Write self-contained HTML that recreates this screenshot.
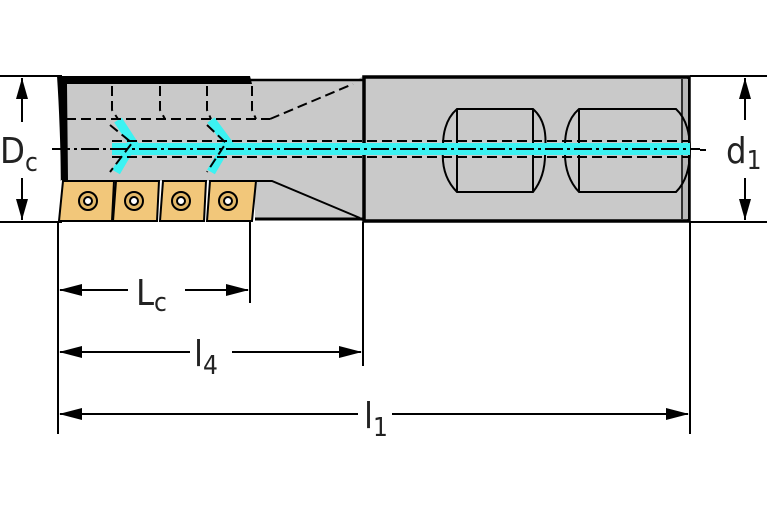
<!DOCTYPE html>
<html><head><style>html,body{margin:0;padding:0;background:#fff;width:767px;height:523px;overflow:hidden}</style></head>
<body>
<svg width="767" height="523" viewBox="0 0 767 523" xmlns="http://www.w3.org/2000/svg" font-family="'DejaVu Sans Condensed','Liberation Sans Narrow','Liberation Sans',sans-serif">
<g stroke="#000" stroke-width="2">
<line x1="0" y1="76" x2="62" y2="76"/>
<line x1="0" y1="222" x2="62" y2="222"/>
<line x1="690" y1="76" x2="767" y2="76"/>
<line x1="690" y1="222" x2="767" y2="222"/>
<line x1="58" y1="222" x2="58" y2="434"/>
<line x1="250" y1="222" x2="250" y2="303"/>
<line x1="363" y1="222" x2="363" y2="366"/>
<line x1="690" y1="222" x2="690" y2="434"/>
</g>
<path d="M62,82 L250,82 L250,80 L357,80 L363,76 L363,222 L357,218 L255,218 L255,181 L60,181 Z" fill="#c9c9c9"/>
<path d="M57,76 L250,76 L252,84 L67,84 L68,180 L61,180 Q60,120 57,76 Z" fill="#000"/>
<line x1="250" y1="80" x2="363" y2="80" stroke="#000" stroke-width="2.5"/>
<line x1="255" y1="219" x2="363" y2="219" stroke="#000" stroke-width="3"/>
<path d="M255,181 L272,181 L360,218" fill="none" stroke="#000" stroke-width="2"/>
<rect x="364" y="77" width="325" height="144" fill="#c9c9c9" stroke="#000" stroke-width="3.5"/>
<line x1="682" y1="79" x2="682" y2="219" stroke="#000" stroke-width="1.5"/>
<rect x="683" y="79" width="5" height="140" fill="#b8b8b8"/>
<g fill="none" stroke="#000" stroke-width="2">
<path d="M457,109 L533,109 Q548,122 545,150 Q546,176 533,192 L457,192 Q441,176 443,150 Q442,122 457,109 Z"/>
<line x1="457" y1="109" x2="457" y2="192"/>
<line x1="533" y1="109" x2="533" y2="192"/>
<path d="M579,109 L676,109 Q690,122 690,150 Q690,178 676,192 L579,192 Q564,176 565,150 Q564,122 579,109 Z"/>
<line x1="579" y1="109" x2="579" y2="192"/>
</g>
<rect x="112" y="143" width="578" height="12" fill="#3cf2f2"/>
<g stroke="#3cf2f2" stroke-width="9" fill="none">
<path d="M118,120 L133,143 L116,172"/>
<path d="M211,120 L228,143 L211,172"/>
</g>
<g stroke="#000" stroke-width="2" fill="none" stroke-dasharray="10,5">
<line x1="66" y1="119" x2="270" y2="119"/>
<path d="M270,119 L353,84"/>
<line x1="112" y1="141" x2="690" y2="141"/>
<line x1="112" y1="157" x2="690" y2="157"/>
<path d="M112,86 L112,110 L118,119"/>
<path d="M160,86 L160,110 L165,119"/>
<path d="M207,86 L207,110 L211,119"/>
<path d="M252,86 L252,110 L256,119"/>
<path d="M110,125 L132,143 L110,172"/>
<path d="M207,125 L226,143 L207,172"/>
</g>
<line x1="52" y1="149" x2="700" y2="149" stroke="#000" stroke-width="2" stroke-dasharray="18,4,3,4"/>
<g stroke="#000" stroke-width="2" fill="#f2c77a">
<path d="M63,181 L114,181 L112,221 L59,221 Z"/>
<path d="M116,181 L159,181 L157,221 L113,221 Z"/>
<path d="M163,181 L206,181 L204,221 L160,221 Z"/>
<path d="M210,181 L256,181 L252,221 L207,221 Z"/>
</g>
<g fill="none" stroke="#000">
<circle cx="88" cy="201" r="9" stroke-width="2" fill="#e3b868"/><circle cx="88" cy="201" r="4" fill="#fff" stroke-width="2"/>
<circle cx="134" cy="201" r="9" stroke-width="2" fill="#e3b868"/><circle cx="134" cy="201" r="4" fill="#fff" stroke-width="2"/>
<circle cx="181" cy="201" r="9" stroke-width="2" fill="#e3b868"/><circle cx="181" cy="201" r="4" fill="#fff" stroke-width="2"/>
<circle cx="228" cy="201" r="9" stroke-width="2" fill="#e3b868"/><circle cx="228" cy="201" r="4" fill="#fff" stroke-width="2"/>
</g>
<g stroke="#000" stroke-width="2">
<line x1="22" y1="78" x2="22" y2="122"/><line x1="22" y1="178" x2="22" y2="220"/>
<line x1="745" y1="78" x2="745" y2="120"/><line x1="745" y1="178" x2="745" y2="220"/>
<line x1="700" y1="150" x2="706" y2="150"/>
<line x1="60" y1="290" x2="128" y2="290"/><line x1="185" y1="290" x2="248" y2="290"/>
<line x1="60" y1="352" x2="190" y2="352"/><line x1="232" y1="352" x2="361" y2="352"/>
<line x1="60" y1="414" x2="358" y2="414"/><line x1="392" y1="414" x2="688" y2="414"/>
</g>
<g fill="#000">
<path d="M22,78 L16,99 L28,99 Z"/><path d="M22,220 L16,199 L28,199 Z"/>
<path d="M745,78 L739,99 L751,99 Z"/><path d="M745,220 L739,199 L751,199 Z"/>
<path d="M59,290 L82,284 L82,296 Z"/><path d="M249,290 L226,284 L226,296 Z"/>
<path d="M59,352 L82,346 L82,358 Z"/><path d="M362,352 L339,346 L339,358 Z"/>
<path d="M59,414 L82,408 L82,420 Z"/><path d="M689,414 L666,408 L666,420 Z"/>
</g>
<g fill="#222" font-size="36">
<text x="0" y="163">D<tspan font-size="26" dy="8">c</tspan></text>
<text x="726" y="163">d<tspan font-size="26" dy="6">1</tspan></text>
<text x="136" y="305">L<tspan font-size="26" dy="6">c</tspan></text>
<text x="194" y="366">l<tspan font-size="26" dy="8">4</tspan></text>
<text x="364" y="428">l<tspan font-size="26" dy="8">1</tspan></text>
</g>
</svg>
</body></html>
